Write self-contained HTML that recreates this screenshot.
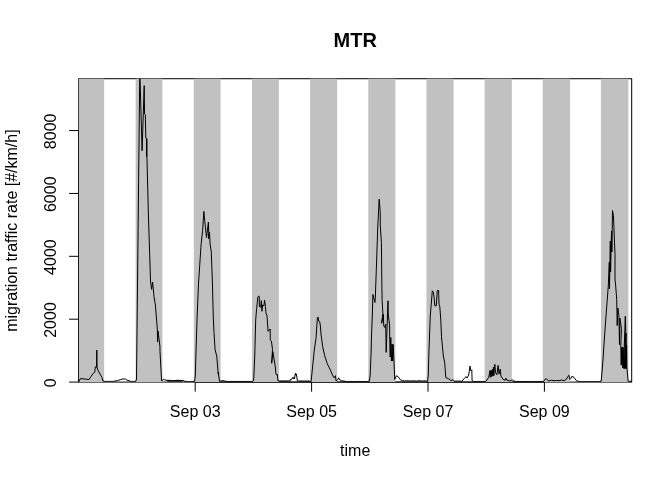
<!DOCTYPE html>
<html><head><meta charset="utf-8"><title>MTR</title>
<style>html,body{margin:0;padding:0;background:#fff}body{width:672px;height:480px;overflow:hidden;position:relative}</style></head>
<body>
<svg width="672" height="480" viewBox="0 0 672 480" style="position:absolute;left:0;top:0">
<defs><clipPath id="c"><rect x="78.72" y="78.72" width="552.96" height="303.36"/></clipPath></defs>
<rect width="672" height="480" fill="#fff"/>
<rect x="78.72" y="78.72" width="552.96" height="303.36" fill="none" stroke="#000" stroke-width="1"/>
<path d="M195.2 382.08H544.4M195.2 382.08v9.6M311.6 382.08v9.6M428.0 382.08v9.6M544.4 382.08v9.6" stroke="#000" stroke-width="1" fill="none"/>
<path d="M78.72 382.08V130.56M78.72 382.08h-9.6M78.72 319.20h-9.6M78.72 256.32h-9.6M78.72 193.44h-9.6M78.72 130.56h-9.6" stroke="#000" stroke-width="1" fill="none"/>
<g clip-path="url(#c)">
<rect x="78.72" y="77.72" width="25.43" height="305.36" fill="#c1c1c1"/>
<rect x="135.65" y="77.72" width="26.74" height="305.36" fill="#c1c1c1"/>
<rect x="193.81" y="77.72" width="26.82" height="305.36" fill="#c1c1c1"/>
<rect x="251.97" y="77.72" width="26.90" height="305.36" fill="#c1c1c1"/>
<rect x="310.13" y="77.72" width="26.98" height="305.36" fill="#c1c1c1"/>
<rect x="368.29" y="77.72" width="27.06" height="305.36" fill="#c1c1c1"/>
<rect x="426.45" y="77.72" width="27.14" height="305.36" fill="#c1c1c1"/>
<rect x="484.61" y="77.72" width="27.22" height="305.36" fill="#c1c1c1"/>
<rect x="542.77" y="77.72" width="27.30" height="305.36" fill="#c1c1c1"/>
<rect x="600.93" y="77.72" width="27.38" height="305.36" fill="#c1c1c1"/>
<polyline points="78.70,382.00 80.20,378.80 82.00,378.60 84.00,379.00 86.50,379.20 89.00,379.60 91.00,376.50 93.20,373.30 94.75,372.30 95.30,366.90 96.60,367.20 96.80,350.10 97.00,367.00 97.90,370.20 100.00,374.00 102.00,377.50 102.90,381.10 104.00,381.03 104.50,381.39 105.00,381.02 105.50,381.39 106.00,381.00 106.50,381.36 107.00,381.05 107.50,381.41 108.00,381.03 108.50,381.37 109.00,380.98 109.50,381.39 110.00,380.99 110.50,381.39 111.00,381.00 111.50,381.36 112.00,381.00 112.50,381.41 113.00,381.01 113.50,381.40 114.50,381.00 117.50,380.60 120.80,379.40 123.00,379.00 125.50,379.00 127.00,380.20 129.10,380.70 130.00,381.00 130.50,381.36 131.00,381.00 131.50,381.39 132.00,381.03 132.50,381.36 133.00,380.99 133.50,381.39 134.00,381.00 134.50,381.41 135.00,381.00 135.90,381.20 136.50,379.00 139.80,70.00 142.10,150.70 144.20,85.60 144.55,114.00 145.30,114.60 145.80,138.00 146.60,138.30 146.55,156.50 146.75,139.00 146.95,157.00 148.40,215.00 149.80,258.00 150.50,281.00 151.60,289.40 152.60,282.00 154.00,296.70 155.40,305.00 157.30,329.00 157.60,342.00 158.00,331.00 159.90,346.00 160.00,351.50 161.60,381.00 162.60,379.80 163.50,379.30 164.20,380.20 164.90,379.40 165.60,380.30 166.30,379.90 166.90,380.90 167.50,379.92 168.00,381.35 168.50,379.95 169.00,381.37 169.50,379.92 170.00,381.47 170.50,380.12 171.00,381.29 171.50,380.09 172.00,381.49 172.50,380.04 173.00,381.41 173.50,380.07 174.00,381.38 174.50,380.05 175.00,381.34 175.50,380.00 176.00,381.40 176.50,379.92 177.00,381.42 177.50,379.92 178.00,381.47 178.50,379.90 179.00,381.42 179.50,380.10 180.00,381.47 180.50,379.91 181.00,381.48 181.50,380.00 182.00,381.43 182.50,380.09 184.75,381.30 186.00,381.11 186.50,381.47 187.00,381.14 187.50,381.44 188.00,381.11 188.50,381.50 189.00,381.15 189.50,381.49 190.00,381.14 190.50,381.45 191.00,381.14 191.50,381.49 192.00,381.11 192.50,381.44 194.50,381.40 195.30,376.00 196.00,352.00 197.00,320.00 198.50,284.00 200.90,247.30 201.20,243.40 202.60,230.50 203.90,211.40 204.70,220.50 206.50,237.60 208.40,222.20 208.70,232.50 208.50,238.80 209.50,232.20 210.10,244.00 211.30,252.00 212.40,282.00 213.30,318.00 214.00,332.70 215.10,350.00 216.75,356.00 218.00,371.70 218.50,375.00 218.20,372.00 219.50,381.40 221.00,381.00 223.00,380.60 225.00,381.20 226.00,381.06 226.50,381.41 227.00,381.05 227.50,381.43 228.00,381.04 228.50,381.47 229.00,381.06 229.50,381.47 230.00,381.08 230.50,381.41 231.00,381.06 231.50,381.41 232.00,381.08 232.50,381.43 233.00,381.06 233.50,381.41 234.00,381.09 234.50,381.46 235.00,381.08 235.50,381.47 236.00,381.04 236.50,381.43 237.00,381.07 237.50,381.44 238.00,381.05 238.50,381.44 239.00,381.06 239.50,381.44 240.00,381.03 240.50,381.44 241.00,381.07 241.50,381.45 242.00,381.08 242.50,381.42 243.00,381.03 243.50,381.44 244.00,381.06 244.50,381.40 245.00,381.07 245.50,381.44 246.00,381.09 246.50,381.44 247.00,381.05 247.50,381.41 248.00,381.05 248.50,381.43 249.00,381.05 249.50,381.43 250.00,381.05 250.50,381.45 251.00,381.09 251.50,381.41 252.80,381.50 253.70,380.00 254.75,356.00 255.70,320.00 256.60,308.75 257.90,296.90 258.80,295.90 259.25,296.50 259.40,306.60 260.70,307.20 261.30,300.60 261.90,311.25 262.60,305.00 263.80,306.00 264.60,300.30 265.40,306.50 266.10,314.00 266.90,315.00 267.80,326.80 268.10,331.40 270.20,329.00 270.30,340.20 271.40,341.00 272.50,349.30 271.70,363.30 272.80,351.70 275.20,366.00 276.00,374.20 277.00,375.30 277.30,374.30 278.00,381.00 279.00,380.59 279.50,381.45 280.00,380.65 280.50,381.38 281.00,380.60 281.50,381.36 282.00,380.64 282.50,381.36 283.00,380.64 283.50,381.40 284.00,380.64 284.50,381.37 285.00,380.58 285.50,381.32 286.00,380.61 286.50,381.41 287.00,380.64 287.50,381.35 288.00,380.58 288.50,381.35 289.00,380.66 289.50,381.37 290.00,381.00 290.30,379.40 291.50,379.70 292.60,377.50 293.20,378.70 293.90,377.30 294.40,378.90 295.40,373.40 295.90,375.20 296.30,373.90 297.00,378.00 297.40,381.00 298.00,380.69 298.50,381.34 299.00,380.73 299.50,381.37 300.00,380.67 300.50,381.38 301.00,380.67 301.50,381.35 302.00,380.73 302.50,381.41 303.00,380.66 303.50,381.38 304.00,380.74 304.50,381.34 305.00,380.71 305.50,381.35 306.00,380.67 306.50,381.43 307.00,380.75 307.50,381.36 308.00,380.67 308.50,381.41 309.00,380.67 309.50,381.37 311.10,381.50 314.30,350.00 316.00,338.30 317.40,317.60 318.20,317.20 318.50,321.00 319.60,321.30 320.40,326.00 321.00,334.20 322.70,346.70 324.60,355.40 327.25,363.70 330.40,370.00 333.00,376.20 334.00,377.80 335.40,375.70 336.10,380.90 337.70,379.90 338.70,377.80 339.75,379.90 341.50,380.60 343.90,381.10 345.00,381.15 345.50,381.46 346.00,381.11 346.50,381.46 347.00,381.14 347.50,381.47 348.00,381.13 348.50,381.46 349.00,381.10 349.50,381.45 350.00,381.16 350.50,381.50 351.00,381.11 351.50,381.50 352.00,381.13 352.50,381.50 353.00,381.10 353.50,381.45 354.00,381.12 354.50,381.49 355.00,381.12 355.50,381.47 356.00,381.14 356.50,381.46 357.00,381.15 357.50,381.44 358.00,381.12 358.50,381.46 359.00,381.11 359.50,381.44 360.00,381.11 360.50,381.48 361.00,381.10 361.50,381.49 362.00,381.11 362.50,381.47 363.00,381.16 363.50,381.48 364.00,381.15 364.50,381.46 365.00,381.12 365.50,381.47 366.00,381.14 366.50,381.50 367.00,381.12 367.50,381.46 368.00,381.14 369.30,381.50 370.20,375.00 371.20,350.00 371.50,336.00 372.30,316.00 372.90,294.50 374.90,302.50 375.30,298.00 376.50,264.00 377.80,226.00 379.20,199.20 380.20,211.70 380.30,226.00 381.40,242.70 381.80,280.00 382.10,300.20 382.90,313.50 381.70,323.25 383.30,314.00 383.75,325.75 384.60,327.40 385.70,324.30 386.20,352.40 388.00,300.80 388.30,315.00 389.60,325.00 389.70,337.00 390.20,357.00 390.80,337.50 391.40,361.00 392.10,344.00 392.60,361.00 393.20,344.50 393.80,358.00 394.75,379.50 396.40,375.80 398.00,376.50 400.20,379.60 402.70,380.80 404.00,380.52 404.60,381.24 405.20,380.53 405.80,381.22 406.40,380.60 407.00,381.24 407.60,380.52 408.20,381.20 408.80,380.52 409.40,381.29 410.00,380.52 410.60,381.28 411.20,380.62 411.80,381.26 412.40,380.52 413.00,381.19 413.60,380.59 414.20,381.21 414.80,380.56 415.40,381.23 416.00,380.56 416.60,381.27 417.20,380.62 417.80,381.19 418.40,380.60 419.00,381.19 419.60,380.61 420.20,381.30 420.80,380.52 421.40,381.19 422.00,380.56 422.60,381.22 423.20,380.58 423.80,381.22 424.40,380.54 425.00,381.25 425.60,380.58 426.20,381.20 427.50,381.50 428.30,375.00 428.80,356.00 430.25,316.00 431.10,305.80 432.30,290.80 433.30,292.10 434.00,296.70 434.80,305.80 436.30,305.80 437.30,290.40 438.60,290.40 439.00,304.20 439.80,306.70 440.80,320.00 441.50,336.80 443.30,356.00 444.70,362.50 445.80,377.60 448.40,378.60 451.00,380.70 453.00,379.70 454.60,381.20 455.50,381.09 456.00,381.40 456.50,381.08 457.00,381.43 457.50,381.09 458.00,381.39 458.50,381.10 459.00,381.41 459.50,381.07 460.00,381.44 460.50,381.09 461.00,381.44 461.90,381.20 465.00,377.60 466.10,376.60 467.10,378.10 468.70,375.00 470.00,366.10 470.80,370.80 471.80,369.80 472.10,380.70 473.00,381.12 473.50,381.47 474.00,381.14 474.50,381.47 475.00,381.12 475.50,381.47 476.00,381.12 476.50,381.47 477.00,381.15 477.50,381.47 478.00,381.12 478.50,381.44 479.00,381.13 479.50,381.47 480.00,381.11 480.50,381.50 481.00,381.14 481.50,381.49 482.00,381.11 482.50,381.46 483.00,381.13 483.50,381.45 484.00,381.11 484.50,381.48 485.00,381.11 485.50,381.49 486.25,381.00 488.75,377.25 490.00,370.40 490.30,377.32 490.75,370.93 491.20,376.64 491.65,370.17 492.10,376.26 492.55,369.35 493.00,375.90 493.45,367.12 493.90,375.62 494.35,366.87 494.90,364.40 495.60,372.90 496.90,374.75 498.10,365.40 499.00,374.10 500.30,369.10 500.90,376.00 503.10,379.40 505.00,380.40 505.90,378.20 506.90,380.20 510.00,381.00 512.20,379.75 513.75,381.00 515.00,381.16 515.50,381.45 516.00,381.11 516.50,381.44 517.00,381.15 517.50,381.45 518.00,381.11 518.50,381.45 519.00,381.16 519.50,381.49 520.00,381.15 520.50,381.49 521.00,381.12 521.50,381.49 522.00,381.10 522.50,381.47 523.00,381.11 523.50,381.44 524.00,381.11 524.50,381.47 525.00,381.12 525.50,381.45 526.00,381.12 526.50,381.50 527.00,381.16 527.50,381.46 528.00,381.13 528.50,381.49 529.00,381.15 529.50,381.45 530.00,381.15 530.50,381.48 531.00,381.11 531.50,381.46 532.00,381.14 532.50,381.46 533.00,381.14 533.50,381.47 534.00,381.16 534.50,381.47 535.00,381.10 535.50,381.46 536.00,381.12 536.50,381.45 537.00,381.12 537.50,381.49 538.00,381.12 538.50,381.47 539.00,381.13 539.50,381.48 540.00,381.11 540.50,381.45 541.00,381.15 541.50,381.48 542.00,381.11 542.50,381.47 543.80,381.30 544.90,379.40 546.40,378.70 548.50,381.00 551.60,380.20 554.00,380.80 556.80,380.40 559.00,380.80 561.00,380.00 564.10,380.60 566.20,379.40 567.80,376.80 568.80,375.30 569.90,379.40 570.90,378.40 571.90,376.30 574.00,377.40 576.10,380.50 577.70,381.20 579.00,381.18 579.50,381.53 580.00,381.20 580.50,381.51 581.00,381.20 581.50,381.53 582.00,381.19 582.50,381.50 583.00,381.17 583.50,381.55 584.00,381.19 584.50,381.53 585.00,381.19 585.50,381.54 586.00,381.17 586.50,381.51 587.00,381.20 587.50,381.49 588.00,381.18 588.50,381.51 589.00,381.20 589.50,381.51 590.00,381.19 590.50,381.54 591.00,381.20 591.50,381.55 592.00,381.18 592.50,381.53 593.00,381.18 593.50,381.54 594.00,381.16 594.50,381.52 595.00,381.18 595.50,381.53 596.00,381.16 596.50,381.51 597.00,381.17 597.50,381.55 598.00,381.18 598.50,381.50 599.00,381.20 599.50,381.53 600.00,381.17 601.20,381.30 603.00,360.00 604.00,344.00 606.30,312.00 608.30,286.00 609.30,262.00 609.50,289.00 610.30,241.00 610.60,272.00 611.50,231.00 611.90,252.00 612.50,210.50 613.40,215.40 613.90,226.00 614.40,240.00 615.00,254.30 615.00,281.00 615.40,282.00 616.70,299.50 617.20,325.50 617.90,308.00 618.90,315.50 619.50,344.70 619.90,318.00 621.40,328.50 620.80,347.00 621.20,365.00 621.70,347.00 622.10,365.30 622.50,347.00 622.90,368.00 623.20,347.50 623.50,368.40 625.30,316.20 625.80,331.00 624.50,368.50 625.50,334.00 625.40,368.50 626.10,333.00 626.20,368.50 626.60,345.00 626.90,367.75 628.10,381.25 631.70,381.25" fill="none" stroke="#000" stroke-width="1" stroke-linejoin="round" stroke-linecap="round"/>
</g>
<g font-family="'Liberation Sans', Arial, sans-serif" font-size="16" fill="#000" text-anchor="middle">
<text x="195.2" y="417.4">Sep 03</text>
<text x="311.6" y="417.4">Sep 05</text>
<text x="428.0" y="417.4">Sep 07</text>
<text x="544.4" y="417.4">Sep 09</text>
<text transform="translate(55.6 382.88) rotate(-90)">0</text>
<text transform="translate(55.6 320.00) rotate(-90)">2000</text>
<text transform="translate(55.6 257.12) rotate(-90)">4000</text>
<text transform="translate(55.6 194.24) rotate(-90)">6000</text>
<text transform="translate(55.6 131.36) rotate(-90)">8000</text>
<text x="355.2" y="455.6">time</text>
<text transform="translate(17 230.6) rotate(-90)">migration traffic rate [#/km/h]</text>
<text x="355.2" y="46.7" font-size="20" font-weight="bold">MTR</text>
</g></svg>
</body></html>
